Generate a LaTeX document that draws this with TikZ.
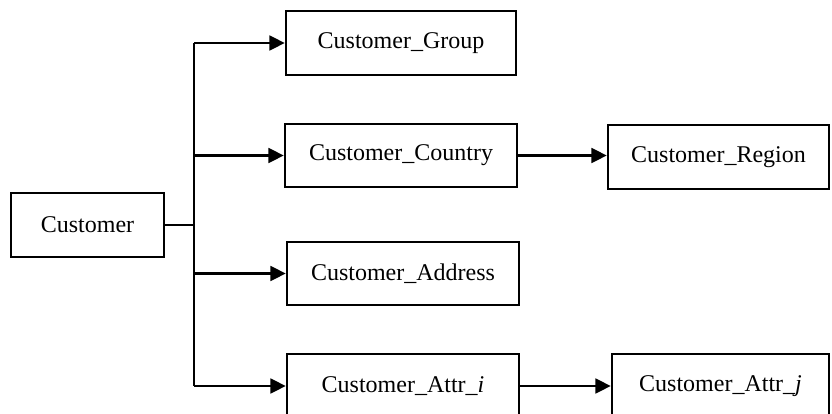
\documentclass[tikz,border=0pt]{standalone}
\usepackage{fontspec}
\setmainfont{Liberation Serif}
\usetikzlibrary{arrows.meta}
\begin{document}
\begin{tikzpicture}[x=0.75pt,y=-0.75pt,
  box/.style={draw,line width=1.8pt,rectangle,minimum height=64*0.75pt,
    inner sep=0pt,font=\fontsize{18}{22}\selectfont},
  link/.style={line width=2pt},
  arr/.style={line width=2pt,-{Triangle[length=11.5pt,width=11pt]}}]
\path[use as bounding box,clip] (0,0) rectangle (832,414);
\fill[white] (0,0) rectangle (832,414);

\node[box,minimum width=153*0.75pt] (cust) at (87.5,225) {Customer};
\node[box,minimum width=230*0.75pt] (grp)  at (401,43) {Customer\_Group};
\node[box,minimum width=232*0.75pt,minimum height=63*0.75pt] (ctry) at (401,155.5) {Customer\_Country};
\node[box,minimum width=232*0.75pt,minimum height=63*0.75pt] (addr) at (403,273.5) {Customer\_Address};
\node[box,minimum width=232*0.75pt] (atti) at (403,386) {Customer\_Attr\_\textit{i}};
\node[box,minimum width=221*0.75pt] (reg)  at (718.5,157) {Customer\_Region};
\node[box,minimum width=217*0.75pt] (attj) at (720.5,386) {Customer\_Attr\_\textit{j}};

% vertical trunk fanning out from Customer
\coordinate (ttop) at (194,43);
\coordinate (tbot) at (194,386);
\draw[link] (ttop) -- (tbot);
\draw[link] (cust.east) -- (cust.east -| ttop);

\draw[arr] (ttop) -- (grp.west);
\draw[arr] (ctry.west -| ttop) -- (ctry.west);
\draw[arr] (addr.west -| ttop) -- (addr.west);
\draw[arr] (tbot) -- (atti.west);

\draw[arr] (ctry.east) -- (ctry.east -| reg.west);
\draw[arr] (atti.east) -- (atti.east -| attj.west);
\end{tikzpicture}
\end{document}
